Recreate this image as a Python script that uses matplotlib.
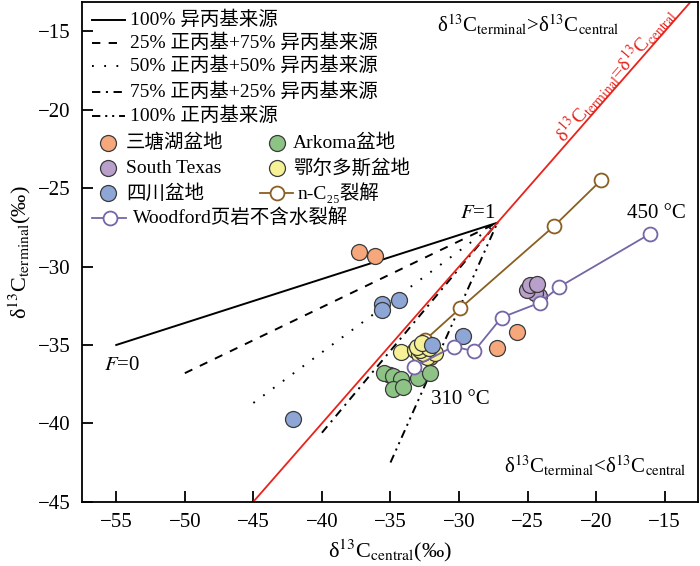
import math
import matplotlib
matplotlib.use('Agg')
import matplotlib.pyplot as plt

plt.rcParams['font.family'] = ['Liberation Serif', 'Noto Sans CJK SC', 'DejaVu Serif']
plt.rcParams['mathtext.fontset'] = 'stix'
plt.rcParams['lines.scale_dashes'] = False

santang_x = [-37.3, -36.1, -27.2, -25.8, -32.1]
santang_y = [-29.1, -29.3, -35.2, -34.2, -35.8]
arkoma_x = [-35.0, -35.5, -34.8, -34.2, -34.8, -34.1, -33.0, -32.1]
arkoma_y = [-36.9, -36.8, -37.0, -37.2, -37.8, -37.7, -37.1, -36.8]
stexas_x = [-24.2, -24.45, -25.05, -24.8, -24.3]
stexas_y = [-31.9, -31.7, -31.5, -31.2, -31.1]
ordos_x = [-34.25, -33.2, -32.35, -31.75, -32.95, -32.6, -32.85, -33.1, -32.2, -32.7]
ordos_y = [-35.45, -35.3, -35.75, -35.5, -35.6, -35.5, -35.3, -35.1, -35.2, -34.9]
sichuan_x = [-35.65, -35.65, -34.4, -32.0, -29.7, -42.1]
sichuan_y = [-32.4, -32.8, -32.1, -35.0, -34.4, -39.7]

# pyrolysis series
nc25_x = [-32.5, -29.9, -23.05, -19.65]
nc25_y = [-34.7, -32.65, -27.4, -24.5]
woodford_x = [-33.3, -30.4, -28.9, -26.9, -24.1, -22.7, -16.05]
woodford_y = [-36.4, -35.1, -35.4, -33.25, -32.3, -31.3, -27.9]

# mixing lines: F=0 end of each source, common F=1 point
f1_x, f1_y = -27.2, -27.2
f0_x = [-55, -50, -45, -40, -35]
f0_y = [-35.0, -36.8, -38.7, -40.6, -42.5]
mix_labels = ['100% 异丙基来源', '25% 正丙基+75% 异丙基来源', '50% 正丙基+50% 异丙基来源',
              '75% 正丙基+25% 异丙基来源', '100% 正丙基来源']
mix_styles = ['-', (0, (6, 6)), (0, (1.3, 7.5)), (0, (6, 4, 1.5, 4)),
              (0, (6, 3.5, 1.5, 3.5, 1.5, 3.5))]

T = 'δ$^{13}$C$_{\\mathrm{terminal}}$'
C = 'δ$^{13}$C$_{\\mathrm{central}}$'

fig = plt.figure(figsize=(7, 5.66), dpi=100)
ax = fig.add_axes([82 / 700, (566 - 501.7) / 566, 615.6 / 700, 500 / 566])
ax.set_xlim(-57.5, -12.6)
ax.set_ylim(-45, -13.1)

for x0, y0, ls in zip(f0_x, f0_y, mix_styles):
    ax.plot([x0, f1_x], [y0, f1_y], color='black', lw=1.4, linestyle=ls, zorder=2)

ax.plot([-45, -12.6], [-45, -12.6], color='#e8231b', lw=1.3, zorder=2)

ax.plot(nc25_x, nc25_y, color='#8a5f22', lw=1.3, marker='o', ms=10,
        mfc='white', mec='#8a5f22', mew=1.3, zorder=3)

pt = dict(marker='o', linestyle='none', ms=11.5, mec='#3a3a3a', mew=0.9, zorder=4)
ax.plot(santang_x, santang_y, mfc='#f6a77c', **pt)
ax.plot(arkoma_x, arkoma_y, mfc='#8dc486', **pt)
ax.plot(stexas_x, stexas_y, mfc='#b9a0cb', **pt)
ax.plot(ordos_x, ordos_y, mfc='#f6f197', **pt)
ax.plot(sichuan_x, sichuan_y, mfc='#8ea6d6', **pt)

ax.plot(woodford_x, woodford_y, color='#7566a6', lw=1.3, marker='o', ms=10,
        mfc='white', mec='#7566a6', mew=1.3, zorder=5)

# annotations
ax.text(-54.6, -36.3, r'$F$=0', fontsize=15, ha='center', va='center')
ax.text(-28.6, -26.6, r'$F$=1', fontsize=15, ha='center', va='center')
ax.text(-15.6, -26.6, '450 °C', fontsize=15, ha='center', va='center')
ax.text(-29.9, -38.5, '310 °C', fontsize=15, ha='center', va='center')
ax.text(-31.6, -14.6, T + '>' + C, fontsize=15, ha='left', va='center')
ax.text(-13.4, -42.7, T + '<' + C, fontsize=15, ha='right', va='center')
p1 = ax.transData.transform((-40, -40))
p2 = ax.transData.transform((-20, -20))
ang = math.degrees(math.atan2(p2[1] - p1[1], p2[0] - p1[0]))
ax.text(-18.6, -17.75, T + '=' + C, fontsize=14, color='#e8231b', rotation=ang,
        rotation_mode='anchor', ha='center', va='center')


# hand-made legend, positions in pixels of the 700x566 canvas
def fx(px):
    return (px - 82) / 615.6


def fy(py):
    return (501.7 - py) / 500


tr = ax.transAxes
for row, (lab, ls) in enumerate(zip(mix_labels, mix_styles)):
    y = fy([20, 43, 66, 92, 116][row])
    ax.plot([fx(92), fx(125)], [y, y], transform=tr, color='black', lw=1.4, linestyle=ls)
    ax.text(fx(130), y, lab, transform=tr, fontsize=14, va='center')

marker_items = [('三塘湖盆地', '#f6a77c', 108, 126, 143), ('Arkoma盆地', '#8dc486', 277, 293, 143),
                ('South Texas', '#b9a0cb', 108, 126, 168), ('鄂尔多斯盆地', '#f6f197', 277, 293, 168),
                ('四川盆地', '#8ea6d6', 108, 126, 193)]
for lab, col, mx, tx, py in marker_items:
    ax.plot([fx(mx)], [fy(py)], transform=tr, marker='o', ms=11.5, mfc=col, mec='#3a3a3a', mew=0.9)
    ax.text(fx(tx), fy(py), lab, transform=tr, fontsize=14, va='center')

ax.plot([fx(260), fx(293)], [fy(193), fy(193)], transform=tr, color='#8a5f22', lw=1.3)
ax.plot([fx(277)], [fy(193)], transform=tr, marker='o', ms=10, mfc='white', mec='#8a5f22', mew=1.3)
ax.text(fx(298), fy(193), 'n-C₂₅裂解', transform=tr, fontsize=14, va='center')

ax.plot([fx(92), fx(126)], [fy(218), fy(218)], transform=tr, color='#7566a6', lw=1.3)
ax.plot([fx(110)], [fy(218)], transform=tr, marker='o', ms=10, mfc='white', mec='#7566a6', mew=1.3)
ax.text(fx(133), fy(218), 'Woodford页岩不含水裂解', transform=tr, fontsize=14, va='center')

# axes styling
ax.set_xticks([-55, -50, -45, -40, -35, -30, -25, -20, -15])
ax.set_yticks([-45, -40, -35, -30, -25, -20, -15])
ax.tick_params(direction='in', length=8, width=1.3, labelsize=15, pad=8,
               top=False, right=False)
for sp in ax.spines.values():
    sp.set_linewidth(1.3)
ax.set_xlabel(C + '(‰)', fontsize=16, labelpad=4)
ax.set_ylabel(T + '(‰)', fontsize=16, labelpad=4)

fig.savefig('out.png', dpi=100)
